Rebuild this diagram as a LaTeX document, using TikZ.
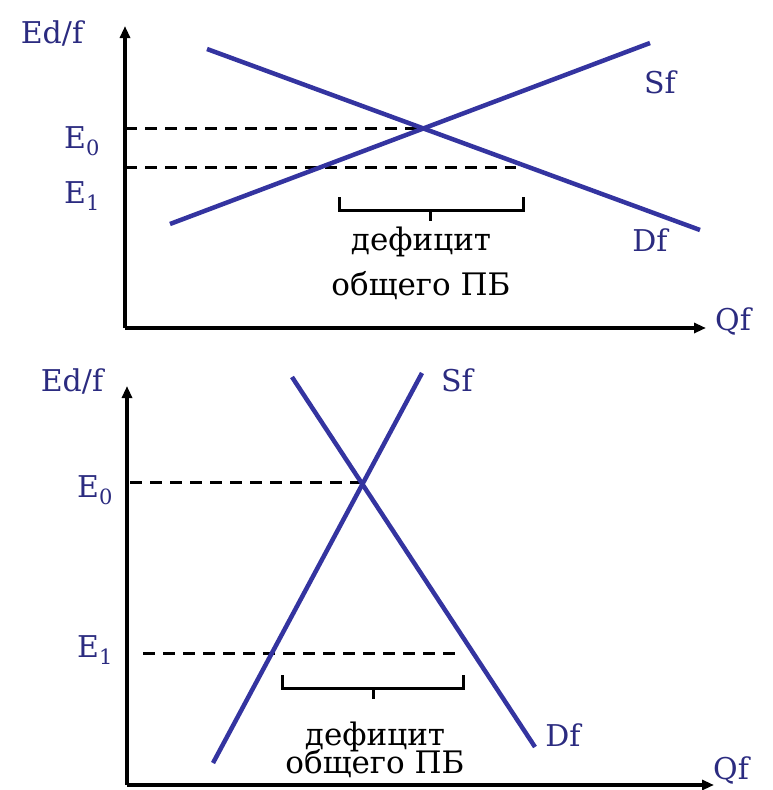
\documentclass[tikz,border=0pt]{standalone}
\usepackage{fontspec}
\setmainfont{DejaVu Serif}
\usepackage{xcolor}
\usetikzlibrary{arrows.meta,positioning}
\definecolor{curveblue}{HTML}{3434A0}
\definecolor{labblue}{HTML}{2B2B80}
\tikzset{
  axis/.style={line width=4pt, -{Triangle[length=12pt,width=10pt]}},
  curve/.style={line width=4.5pt, draw=curveblue},
  guide/.style={line width=3pt, dash pattern=on 12pt off 8pt},
  brc/.style={line width=3pt},
  lab/.style={font=\fontsize{30}{32}\selectfont, text=labblue, inner sep=0pt},
  note/.style={font=\fontsize{31}{34}\selectfont, inner sep=0pt, anchor=base},
}

\begin{document}
\begin{tikzpicture}[x=1pt, y=-1pt]
  \useasboundingbox (0,0) rectangle (772,790);
  % upper panel: flat curves
  \coordinate (O1) at (125,328);
  \coordinate (Y1) at (125,26);
  \coordinate (X1) at (706,328);
  \draw[axis] (O1) -- (Y1);
  \draw[axis] (O1) -- (X1);
  \coordinate (D1a) at (207,49);
  \coordinate (D1b) at (700,230);
  \coordinate (S1a) at (170,224);
  \coordinate (S1b) at (650,43);
  \coordinate (E0a) at (125,128);
  \coordinate (E0b) at (423,128);
  \coordinate (E1a) at (125,167);
  \coordinate (E1b) at (516,167);
  \draw[guide] (E0a) -- (E0b);
  \draw[guide] (E1a) -- (E1b);
  \draw[curve] (D1a) -- (D1b);
  \draw[curve] (S1a) -- (S1b);
  % brace
  \coordinate (bL1) at (339,197);
  \coordinate (bR1) at (523,197);
  \coordinate (bM1) at (430,210);
  \coordinate (bT1) at (430,221);
  \draw[brc] (bL1) |- (bM1) -| (bR1);
  \draw[brc] (bM1) -- (bT1);
  \node[note] (def1) at (421,250) {дефицит};
  \node[note] (gen1) at (421,295) {общего ПБ};
  \node[lab] (ed1) at (52,33) {Ed/f};
  \node[lab] (e01) at (82,141) {E\textsubscript{0}};
  \node[lab] (e11) at (82,196) {E\textsubscript{1}};
  \node[lab] (sf1) at (660,82) {Sf};
  \node[lab] (df1) at (650,240) {Df};
  \node[lab] (qf1) at (733,322) {Qf};

  % lower panel: steep curves
  \coordinate (O2) at (127,785);
  \coordinate (Y2) at (127,386);
  \coordinate (X2) at (714,785);
  \draw[axis] (O2) -- (Y2);
  \draw[axis] (O2) -- (X2);
  \coordinate (D2a) at (292,377);
  \coordinate (D2b) at (535,747);
  \coordinate (S2a) at (213,763);
  \coordinate (S2b) at (422,373);
  \coordinate (F0a) at (130,482);
  \coordinate (F0b) at (362,482);
  \coordinate (F1a) at (143,653);
  \coordinate (F1b) at (460,653);
  \draw[guide] (F0a) -- (F0b);
  \draw[guide] (F1a) -- (F1b);
  \draw[curve] (D2a) -- (D2b);
  \draw[curve] (S2a) -- (S2b);
  % brace
  \coordinate (bL2) at (282,675);
  \coordinate (bR2) at (463,675);
  \coordinate (bM2) at (373,688);
  \coordinate (bT2) at (373,699);
  \draw[brc] (bL2) |- (bM2) -| (bR2);
  \draw[brc] (bM2) -- (bT2);
  \node[note] (def2) at (375,745) {дефицит};
  \node[note] (gen2) at (375,773) {общего ПБ};
  \node[lab] (ed2) at (72,381) {Ed/f};
  \node[lab] (e02) at (95,490) {E\textsubscript{0}};
  \node[lab] (e12) at (95,650) {E\textsubscript{1}};
  \node[lab] (sf2) at (457,380) {Sf};
  \node[lab] (df2) at (563,735) {Df};
  \node[lab] (qf2) at (731,770) {Qf};
\end{tikzpicture}
\end{document}
